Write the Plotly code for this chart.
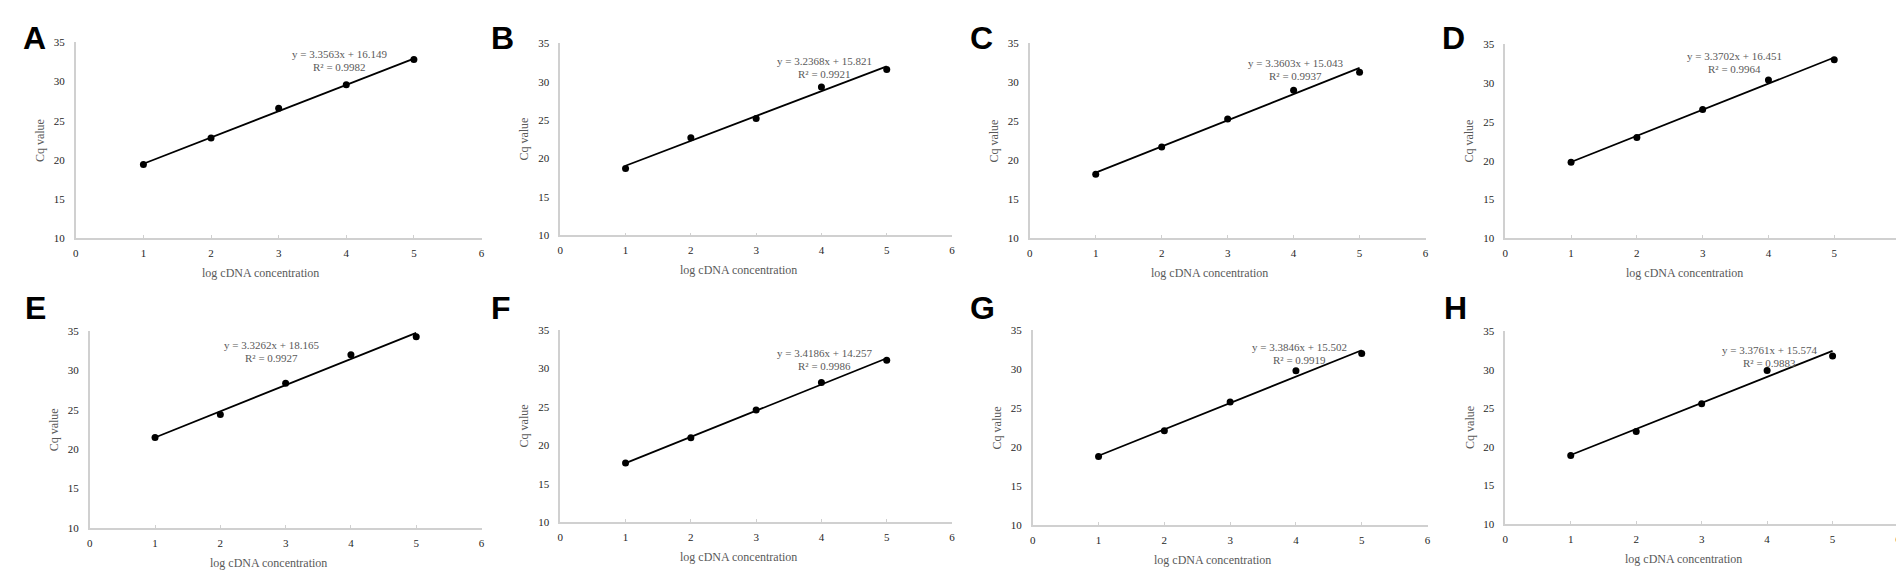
import plotly.graph_objects as go

W, H = 1904, 571

panels = ["A", "B", "C", "D", "E", "F", "G", "H"]
log_conc = [1, 2, 3, 4, 5]

cq_A = [19.4, 22.8, 26.6, 29.6, 32.8]
cq_B = [18.7, 22.7, 25.2, 29.3, 31.6]
cq_C = [18.2, 21.7, 25.3, 29.0, 31.3]
cq_D = [19.8, 23.0, 26.6, 30.4, 33.0]
cq_E = [21.5, 24.4, 28.4, 32.0, 34.3]
cq_F = [17.7, 21.0, 24.6, 28.2, 31.1]
cq_G = [18.8, 22.1, 25.8, 29.8, 32.0]
cq_H = [18.9, 22.0, 25.6, 29.9, 31.8]
cq_all = [cq_A, cq_B, cq_C, cq_D, cq_E, cq_F, cq_G, cq_H]

slopes = [3.3563, 3.2368, 3.3603, 3.3702, 3.3262, 3.4186, 3.3846, 3.3761]
intercepts = [16.149, 15.821, 15.043, 16.451, 18.165, 14.257, 15.502, 15.574]
r_squared = [0.9982, 0.9921, 0.9937, 0.9964, 0.9927, 0.9986, 0.9919, 0.9883]

x_ticks = [0, 1, 2, 3, 4, 5, 6]
y_ticks = [10, 15, 20, 25, 30, 35]

# plot area in pixels: left, right, top, bottom
boxes = [(65, 472, 29, 229), (551, 944, 30, 226), (1022, 1419, 30, 229), (1499, 1895, 31, 229),
         (79, 472, 324, 525), (551, 944, 323, 519), (1025, 1421, 323, 522), (1499, 1893, 324, 521)]
# where the equation text sits (data coords)
eq_pos = [(3.9, 33.5), (4.04, 32.7), (4.03, 32.5), (3.48, 33.45),
          (2.78, 33.26), (4.05, 32.07), (4.05, 32.8), (4.03, 32.6)]
letter_px = [(10, 25), (480, 25), (960, 25), (1434, 25),
             (12, 300), (480, 300), (960, 300), (1436, 300)]

serif = "Liberation Serif"
grey = "#595959"
axis_grey = "#d0d0d0"

fig = go.Figure()
annotations = []

for i, name in enumerate(panels):
    n = "" if i == 0 else str(i + 1)
    xa, ya = "x" + n, "y" + n
    left, right, top, bottom = boxes[i]

    fig.add_trace(go.Scatter(
        x=log_conc, y=cq_all[i], mode="markers",
        marker=dict(color="black", size=7),
        xaxis=xa, yaxis=ya, showlegend=False))

    fit_x = [log_conc[0], log_conc[-1]]
    fit_y = [slopes[i] * v + intercepts[i] for v in fit_x]
    fig.add_trace(go.Scatter(
        x=fit_x, y=fit_y, mode="lines",
        line=dict(color="black", width=1.8),
        xaxis=xa, yaxis=ya, showlegend=False))

    axis_common = dict(showgrid=False, zeroline=False, showline=True,
                       linecolor=axis_grey, linewidth=1.5,
                       tickfont=dict(family=serif, size=11, color="#262626"))
    fig.layout["xaxis" + n] = dict(
        axis_common, domain=[left / W, right / W], range=[0, 6],
        tickvals=x_ticks, ticks="inside", ticklen=3, tickcolor=axis_grey,
        anchor=ya, ticklabelstandoff=4)
    fig.layout["yaxis" + n] = dict(
        axis_common, domain=[1 - bottom / H, 1 - top / H], range=[10, 35],
        tickvals=y_ticks, ticks="", anchor=xa, ticklabelstandoff=7)

    ex, ey = eq_pos[i]
    annotations.append(dict(
        x=ex, y=ey, xref=xa, yref=ya, showarrow=False,
        text=f"y = {slopes[i]:.4f}x + {intercepts[i]:.3f}",
        font=dict(family=serif, size=11, color=grey)))
    annotations.append(dict(
        x=ex, y=ey, xref=xa, yref=ya, yshift=-13, showarrow=False,
        text=f"R² = {r_squared[i]:.4f}",
        font=dict(family=serif, size=11, color=grey)))

    annotations.append(dict(
        x=0.455, y=0, xref=xa + " domain", yref=ya + " domain", yshift=-35,
        xanchor="center", yanchor="middle",
        showarrow=False, text="log cDNA concentration",
        font=dict(family=serif, size=12, color=grey)))
    annotations.append(dict(
        x=0, y=0.5, xref=xa + " domain", yref=ya + " domain", xshift=-36,
        xanchor="center", yanchor="middle",
        showarrow=False, text="Cq value", textangle=-90,
        font=dict(family=serif, size=12, color=grey)))

    lx, ly = letter_px[i]
    annotations.append(dict(
        x=lx / W, y=1 - ly / H, xref="paper", yref="paper",
        xanchor="left", yanchor="middle", showarrow=False, text=f"<b>{name}</b>",
        font=dict(family="Liberation Sans", size=32, color="black")))

fig.update_layout(
    width=W, height=H,
    margin=dict(l=0, r=0, t=0, b=0),
    paper_bgcolor="white", plot_bgcolor="white",
    annotations=annotations)

fig.write_html("out.html")
